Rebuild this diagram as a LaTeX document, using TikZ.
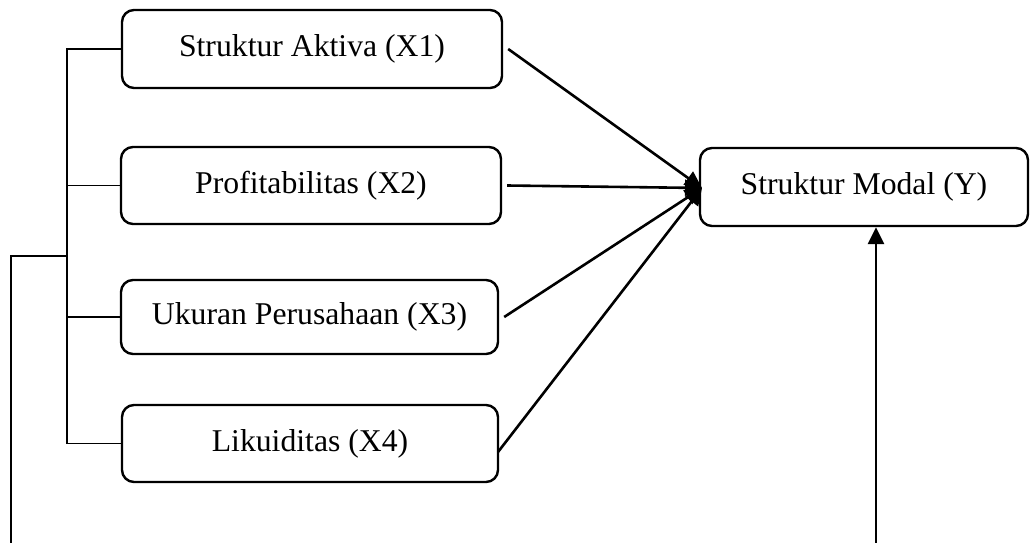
\documentclass[tikz,border=0pt]{standalone}
\usepackage{fontspec}
\setmainfont{Liberation Serif}
\usetikzlibrary{arrows.meta}
\begin{document}
\begin{tikzpicture}[x=1pt,y=-1pt,
  varbox/.style={draw, line width=2.4pt, rounded corners=12pt, inner sep=0pt,
    font=\fontsize{31.7}{38}\selectfont, align=center},
  conn/.style={line width=2.6pt, -{Triangle[length=17pt,width=16pt]}},
  tie/.style={line width=1.6pt}]
\useasboundingbox (0,0) rectangle (1030,543);
\node[varbox, minimum width=380pt, minimum height=78pt] (x1) at (312,49) {Struktur Aktiva (X1)};
\node[varbox, minimum width=380pt, minimum height=77pt] (x2) at (311,185.5) {Profitabilitas (X2)};
\node[varbox, minimum width=377pt, minimum height=74pt] (x3) at (309.5,317) {Ukuran Perusahaan (X3)};
\node[varbox, minimum width=376pt, minimum height=77pt] (x4) at (310,443.5) {Likuiditas (X4)};
\node[varbox, minimum width=328pt, minimum height=78pt] (y) at (864,187) {Struktur Modal (Y)};
\coordinate (hub) at (702,188);
\coordinate (s4) at (498,452);
\draw[conn] ([xshift=5pt]x1.east) -- (hub);
\draw[conn] ([xshift=5pt]x2.east) -- (hub);
\draw[conn] ([xshift=5pt]x3.east) -- (hub);
\draw[conn] (s4) -- (hub);
% bracket
\coordinate (bt) at (67,49);
\coordinate (bm) at (67,256);
\coordinate (ol) at (11,256);
\coordinate (od) at (11,543);
\coordinate (rd) at (876,543);
\draw[tie] (x1.west) -- (bt) -- (x4.west -| bt) -- (x4.west);
\draw[tie] (x2.west) -- (x2.west -| bt);
\draw[tie] (x3.west) -- (x3.west -| bt);
\draw[tie] (bm) -- (ol) -- (od);
\draw[conn] (rd) -- (y.south -| rd);
\end{tikzpicture}
\end{document}
